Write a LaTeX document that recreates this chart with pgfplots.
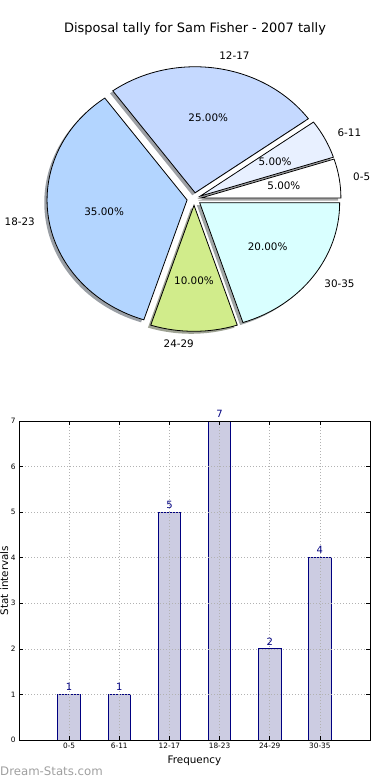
\documentclass[border=0pt]{standalone}
\usepackage{pgfplots}
\pgfplotsset{compat=1.18}
\usepackage{pgfplotstable}
\usepackage{fontspec}
\setmainfont{DejaVu Sans}

\definecolor{c05}{HTML}{FFFFFF}
\definecolor{c611}{HTML}{E8F0FF}
\definecolor{c1217}{HTML}{C5D9FF}
\definecolor{c1823}{HTML}{B3D5FF}
\definecolor{c2429}{HTML}{D1EC8B}
\definecolor{c3035}{HTML}{D9FFFF}
\definecolor{barfill}{HTML}{CCCCE2}
\definecolor{navyc}{HTML}{000080}

\pgfplotstableread{
idx count
0 1
1 1
2 5
3 7
4 2
5 4
}\tally

% 20 in total: one unit = 18 degrees
% #1 units before, #2 units of the slice, #3 colour
\newcommand\pieshadow[3]{%
  \fill[#3!30!black, opacity=0.5, xshift=-2.8bp, yshift=-2.5bp]
    (axis cs:{0.05*cos((#1+#2/2)*18)},{0.05*sin((#1+#2/2)*18)})
    -- (axis cs:{0.05*cos((#1+#2/2)*18)+cos(#1*18)},{0.05*sin((#1+#2/2)*18)+sin(#1*18)})
    arc[start angle={#1*18}, end angle={(#1+#2)*18}, x radius=140bp, y radius=126bp]
    -- cycle;
}
% #4 label, #5 percent, #6 anchor of label
\newcommand\pieslice[6]{%
  \filldraw[fill=#3, draw=black, line width=0.8bp]
    (axis cs:{0.05*cos((#1+#2/2)*18)},{0.05*sin((#1+#2/2)*18)})
    -- (axis cs:{0.05*cos((#1+#2/2)*18)+cos(#1*18)},{0.05*sin((#1+#2/2)*18)+sin(#1*18)})
    arc[start angle={#1*18}, end angle={(#1+#2)*18}, x radius=140bp, y radius=126bp]
    -- cycle;
  \node[font=\fontsize{10.4}{12}\selectfont, inner sep=0pt]
    at (axis cs:{0.65*cos((#1+#2/2)*18)},{0.65*sin((#1+#2/2)*18)}) {#5};
  \node[font=\fontsize{10.4}{12}\selectfont, inner sep=0pt, anchor=#6]
    at (axis cs:{1.15*cos((#1+#2/2)*18)},{1.15*sin((#1+#2/2)*18)}) {#4};
}

\begin{document}
\begin{tikzpicture}
\useasboundingbox (0,0) rectangle (390bp,780bp);

\node[anchor=base, font=\fontsize{13}{15}\selectfont, inner sep=0pt] at (195bp,747.5bp)
  {Disposal tally for Sam Fisher - 2007 tally};

\begin{axis}[at={(194bp,581bp)}, anchor=center, hide axis, scale only axis,
  width=378bp, height=327.6bp, xmin=-1.35, xmax=1.35, ymin=-1.3, ymax=1.3, clip=false]
  \pieshadow{0}{1}{c05}
  \pieshadow{1}{1}{c611}
  \pieshadow{2}{5}{c1217}
  \pieshadow{7}{7}{c1823}
  \pieshadow{14}{2}{c2429}
  \pieshadow{16}{4}{c3035}
  \pieslice{0}{1}{c05}{0-5}{5.00\%}{west}
  \pieslice{1}{1}{c611}{6-11}{5.00\%}{west}
  \pieslice{2}{5}{c1217}{12-17}{25.00\%}{west}
  \pieslice{7}{7}{c1823}{18-23}{35.00\%}{east}
  \pieslice{14}{2}{c2429}{24-29}{10.00\%}{east}
  \pieslice{16}{4}{c3035}{30-35}{20.00\%}{west}
\end{axis}

\begin{axis}[at={(19bp,40bp)}, anchor=south west, scale only axis,
  width=351bp, height=319bp,
  xmin=-1, xmax=6, ymin=0, ymax=7,
  xtick={0,...,5}, xticklabels={0-5,6-11,12-17,18-23,24-29,30-35},
  ytick={0,...,7},
  grid=major,
  major grid style={draw=gray!60, line width=0.6bp, dash pattern=on 1bp off 2bp},
  axis on top,
  tick align=inside, major tick length=4bp,
  tick style={black, line width=0.5bp},
  axis line style={line width=0.8bp},
  ticklabel style={font=\fontsize{7.4}{8}\selectfont},
  /pgf/number format/assume math mode=true,
  xlabel={Frequency}, ylabel={Stat intervals},
  every axis x label/.style={at={(axis description cs:0.5,-0.0752)}, anchor=base,
    font=\fontsize{10.4}{12}\selectfont},
  every axis y label/.style={at={(axis description cs:-0.03134,0.5)}, anchor=base,
    rotate=90, font=\fontsize{10.4}{12}\selectfont},
]
\addplot[ybar, fill=barfill, draw=navyc, line width=0.8bp, bar width=22.5bp,
  nodes near coords,
  every node near coord/.append style={font=\fontsize{10}{12}\selectfont, text=navyc}]
  table[x=idx, y=count] {\tally};
\end{axis}

\node[anchor=base west, inner sep=0pt, text=gray!75, font=\fontsize{11.8}{13}\selectfont]
  at (0bp,5bp) {Dream-Stats.com};
\end{tikzpicture}
\end{document}
